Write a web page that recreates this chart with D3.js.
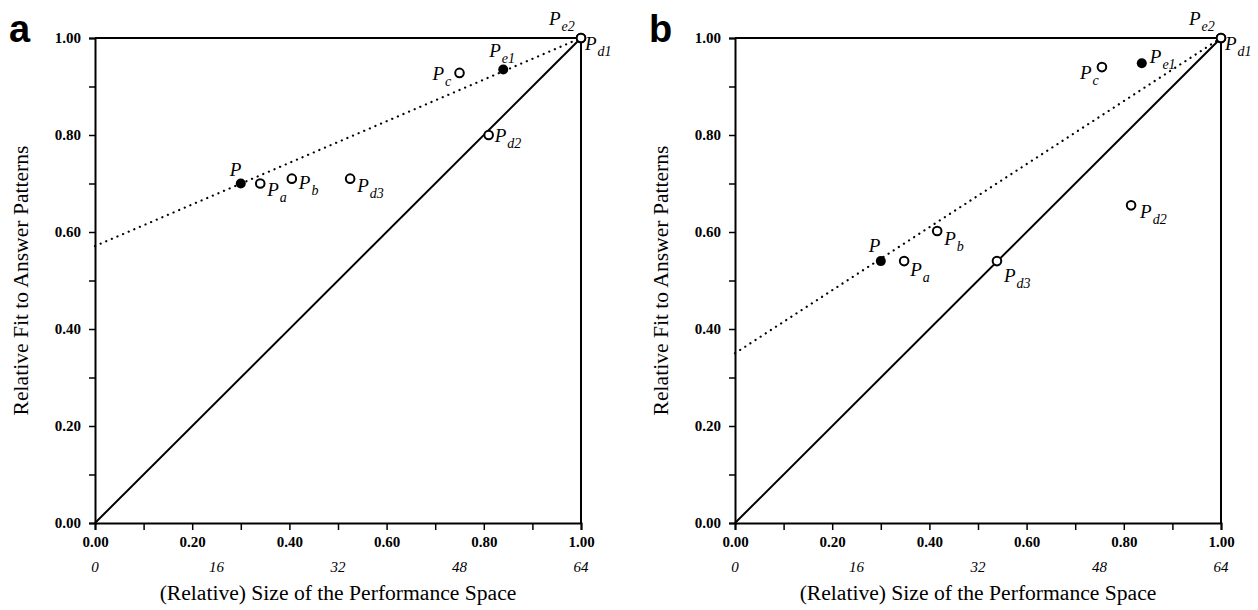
<!DOCTYPE html>
<html><head><meta charset="utf-8">
<script src="https://cdn.jsdelivr.net/npm/d3@7"></script>
<style>body{margin:0;background:#fff;} svg{display:block;}</style>
</head><body>
<svg id="chart" width="1258" height="610"></svg>
<script>
// ---- data ----
const panelNames = ["a", "b"];
const yTicks = [0, 0.1, 0.2, 0.3, 0.4, 0.5, 0.6, 0.7, 0.8, 0.9, 1.0];
const xTicks = [0, 0.1, 0.2, 0.3, 0.4, 0.5, 0.6, 0.7, 0.8, 0.9, 1.0];
const countTicks = [0, 0.25, 0.5, 0.75, 1.0];
const countLabels = ["0", "16", "32", "48", "64"];
const xTitle = "(Relative) Size of the Performance Space";
const yTitle = "Relative Fit to Answer Patterns";
// points: [label, subscript, x, y, filled]
const pointsA = [
  ["P", "", 0.30, 0.70, true],
  ["P", "a", 0.34, 0.70, false],
  ["P", "b", 0.405, 0.71, false],
  ["P", "d3", 0.525, 0.71, false],
  ["P", "c", 0.75, 0.928, false],
  ["P", "e1", 0.84, 0.935, true],
  ["P", "d2", 0.81, 0.80, false],
  ["P", "e2", 1.0, 1.0, false],
  ["P", "d1", 1.0, 1.0, false]
];
const pointsB = [
  ["P", "", 0.30, 0.54, true],
  ["P", "a", 0.348, 0.54, false],
  ["P", "b", 0.416, 0.602, false],
  ["P", "d3", 0.539, 0.54, false],
  ["P", "c", 0.755, 0.94, false],
  ["P", "e1", 0.837, 0.948, true],
  ["P", "d2", 0.815, 0.655, false],
  ["P", "e2", 1.0, 1.0, false],
  ["P", "d1", 1.0, 1.0, false]
];
// dotted reference line: [x0, y0, x1, y1]
const dottedA = [0, 0.571, 1, 1];
const dottedB = [0, 0.35, 1, 1];
const diagonal = [0, 0, 1, 1];
// label offsets in px (style): [dx, dy] of the "P" baseline start relative to point
const labelOffA = [[-11, -8], [7, 12], [7, 10], [7, 13], [-27, 7], [-14, -13], [6, 7], [-32, -13], [4, 12]];
const labelOffB = [[-12, -9], [6, 15], [7, 14], [7, 21], [-22, 12], [8, 0], [9, 13], [-32, -13], [4, 12]];

const panels = [
  {name: panelNames[0], pts: pointsA, dotted: dottedA, off: labelOffA, left: 95},
  {name: panelNames[1], pts: pointsB, dotted: dottedB, off: labelOffB, left: 735}
];

const svg = d3.select("#chart");
const W = 486, H = 485, plotTop = 38;
const serif = "'Liberation Serif', 'Times New Roman', serif";

panels.forEach(p => {
  const g = svg.append("g").attr("transform", `translate(${p.left},${plotTop})`);
  const x = d3.scaleLinear().domain([0, 1]).range([0, W]);
  const y = d3.scaleLinear().domain([0, 1]).range([H, 0]);

  // frame top/right
  g.append("line").attr("x1", x(0)).attr("x2", x(1)).attr("y1", y(1)).attr("y2", y(1))
    .attr("stroke", "#000").attr("stroke-width", 2);
  g.append("line").attr("x1", x(1)).attr("x2", x(1)).attr("y1", y(0)).attr("y2", y(1))
    .attr("stroke", "#000").attr("stroke-width", 2);

  // y axis
  const ya = g.append("g").call(d3.axisLeft(y).tickValues(yTicks).tickSize(6).tickPadding(8)
    .tickFormat(d => (Math.round(d * 10) % 2 === 0) ? d3.format(".2f")(d) : ""));
  ya.select(".domain").attr("stroke-width", 2);
  ya.selectAll(".tick line").attr("stroke-width", 1.5);
  ya.selectAll("text").attr("font-family", serif).attr("font-weight", "bold").attr("font-size", 15).attr("fill", "#000");

  // x axis
  const xa = g.append("g").attr("transform", `translate(0,${H})`)
    .call(d3.axisBottom(x).tickValues(xTicks).tickSize(7).tickPadding(6)
      .tickFormat(d => (Math.round(d * 10) % 2 === 0) ? d3.format(".2f")(d) : ""));
  xa.select(".domain").attr("stroke-width", 2);
  xa.selectAll(".tick line").attr("stroke-width", 1.5);
  xa.selectAll("text").attr("font-family", serif).attr("font-weight", "bold").attr("font-size", 15).attr("fill", "#000");

  // count row
  g.selectAll(".cnt").data(countTicks).enter().append("text")
    .attr("x", d => x(d)).attr("y", H + 49)
    .attr("text-anchor", "middle").attr("font-family", serif).attr("font-style", "italic")
    .attr("font-size", 15).text((d, i) => countLabels[i]);

  // titles
  g.append("text").attr("x", x(0.5)).attr("y", H + 77).attr("text-anchor", "middle")
    .attr("font-family", serif).attr("font-size", 21.6).text(xTitle);
  g.append("text").attr("transform", `translate(-67,${y(0.5)}) rotate(-90)`).attr("text-anchor", "middle")
    .attr("font-family", serif).attr("font-size", 21.6).text(yTitle);

  // panel letter
  svg.append("text").attr("x", p.left - 86).attr("y", 42)
    .attr("font-family", "'Liberation Sans', Arial, sans-serif").attr("font-weight", "bold")
    .attr("font-size", 38).text(p.name);

  // lines
  g.append("line").attr("x1", x(diagonal[0])).attr("y1", y(diagonal[1]))
    .attr("x2", x(diagonal[2])).attr("y2", y(diagonal[3]))
    .attr("stroke", "#000").attr("stroke-width", 2);
  g.append("line").attr("x1", x(p.dotted[0])).attr("y1", y(p.dotted[1]))
    .attr("x2", x(p.dotted[2])).attr("y2", y(p.dotted[3]))
    .attr("stroke", "#000").attr("stroke-width", 2.2).attr("stroke-dasharray", "0.1,6")
    .attr("stroke-linecap", "round");

  // points
  g.selectAll(".pt").data(p.pts).enter().append("circle")
    .attr("cx", d => x(d[2])).attr("cy", d => y(d[3]))
    .attr("r", d => d[4] ? 5 : 4.3)
    .attr("fill", d => d[4] ? "#000" : "#fff")
    .attr("stroke", "#000").attr("stroke-width", d => d[4] ? 0 : 2);

  // labels
  p.pts.forEach((d, i) => {
    const t = g.append("text")
      .attr("x", x(d[2]) + p.off[i][0]).attr("y", y(d[3]) + p.off[i][1])
      .attr("font-family", serif).attr("font-style", "italic").attr("font-size", 19);
    t.append("tspan").text(d[0]);
    if (d[1]) t.append("tspan").attr("dy", 6).attr("dx", 1).attr("font-size", 14).text(d[1]);
  });
});
</script>
</body></html>
